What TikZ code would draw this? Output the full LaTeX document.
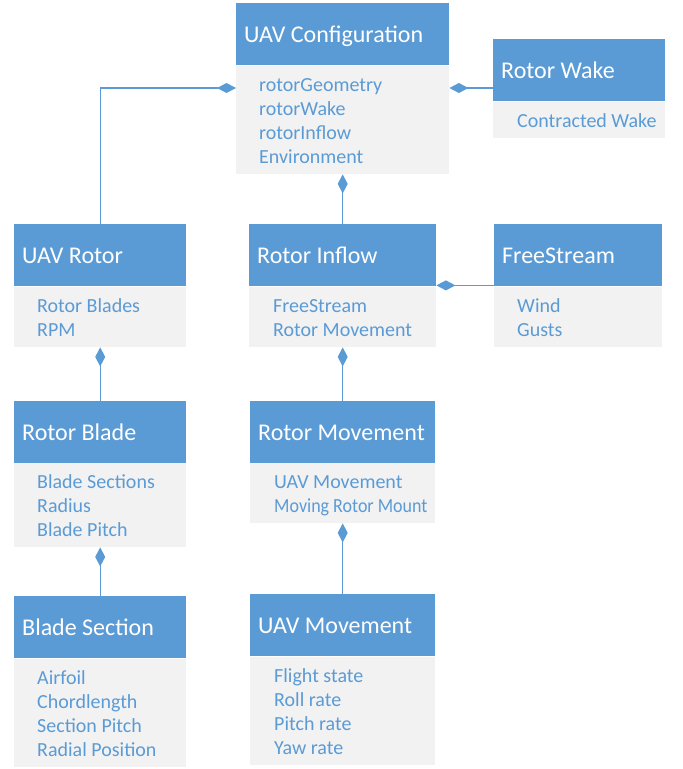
\documentclass[tikz,border=0pt]{standalone}
\usepackage{fontspec}
\setmainfont{Carlito}
\usetikzlibrary{arrows.meta}
\definecolor{ublue}{HTML}{5B9BD5}
\definecolor{ugray}{HTML}{F2F2F2}
\begin{document}
\begin{tikzpicture}[x=1pt,y=-1pt,
 hdr/.style={fill=ublue, draw=none, inner sep=0, anchor=north west, minimum height=62},
 bdy/.style={fill=ugray, draw=none, inner sep=0, anchor=north west},
 htxt/.style={anchor=base west, inner sep=0, text=white, font=\fontsize{24}{29}\selectfont},
 btxt/.style={anchor=base west, inner sep=0, text=ublue, font=\fontsize{20}{24.3}\selectfont},
 link/.style={draw=ublue, line width=1.3pt, {Diamond[length=19pt 0 0,width=10pt 0 0,fill=ublue]}-}
]
\useasboundingbox (0,0) rectangle (683,769);

% UAV Configuration
\node[hdr, minimum width=213] (cfg) at (236,3) {};
\node[htxt] (cfgT) at ([shift={(8,39)}]cfg.north west) {UAV Configuration};
\node[bdy, minimum width=213, minimum height=108] (cfgB) at (236,66) {};
\node[btxt] (cfgL) at ([shift={(23,25)}]cfgB.north west) {\begin{tabular}[t]{@{}l@{}}rotorGeometry\\rotorWake\\rotorInflow\\Environment\end{tabular}};

% Rotor Wake
\node[hdr, minimum width=172] (wake) at (493,39) {};
\node[htxt] (wakeT) at ([shift={(8,39)}]wake.north west) {Rotor Wake};
\node[bdy, minimum width=172, minimum height=36] (wakeB) at (493,102) {};
\node[btxt] (wakeL) at ([shift={(24,25)}]wakeB.north west) {Contracted Wake};

% UAV Rotor
\node[hdr, minimum width=172] (rotor) at (14,224) {};
\node[htxt] (rotorT) at ([shift={(8,39)}]rotor.north west) {UAV Rotor};
\node[bdy, minimum width=172, minimum height=60] (rotorB) at (14,287) {};
\node[btxt] (rotorL) at ([shift={(23,25)}]rotorB.north west) {\begin{tabular}[t]{@{}l@{}}Rotor Blades\\RPM\end{tabular}};

% Rotor Inflow
\node[hdr, minimum width=187] (inflow) at (249,224) {};
\node[htxt] (inflowT) at ([shift={(8,39)}]inflow.north west) {Rotor Inflow};
\node[bdy, minimum width=187, minimum height=60] (inflowB) at (249,287) {};
\node[btxt] (inflowL) at ([shift={(24,25)}]inflowB.north west) {\begin{tabular}[t]{@{}l@{}}FreeStream\\Rotor Movement\end{tabular}};

% FreeStream
\node[hdr, minimum width=168] (free) at (494,224) {};
\node[htxt] (freeT) at ([shift={(8,39)}]free.north west) {FreeStream};
\node[bdy, minimum width=168, minimum height=60] (freeB) at (494,287) {};
\node[btxt] (freeL) at ([shift={(23,25)}]freeB.north west) {\begin{tabular}[t]{@{}l@{}}Wind\\Gusts\end{tabular}};

% Rotor Blade
\node[hdr, minimum width=172] (blade) at (14,401) {};
\node[htxt] (bladeT) at ([shift={(8,39)}]blade.north west) {Rotor Blade};
\node[bdy, minimum width=172, minimum height=84] (bladeB) at (14,463) {};
\node[btxt] (bladeL) at ([shift={(23,25)}]bladeB.north west) {\begin{tabular}[t]{@{}l@{}}Blade Sections\\Radius\\Blade Pitch\end{tabular}};

% Rotor Movement
\node[hdr, minimum width=185] (move) at (250,401) {};
\node[htxt] (moveT) at ([shift={(8,39)}]move.north west) {Rotor Movement};
\node[bdy, minimum width=185, minimum height=60] (moveB) at (250,463) {};
\node[btxt] (moveL) at ([shift={(24,25)}]moveB.north west) {\begin{tabular}[t]{@{}l@{}}UAV Movement\\\scalebox{0.9}[1]{Moving Rotor Mount}\end{tabular}};

% Blade Section
\node[hdr, minimum width=172] (sect) at (14,596) {};
\node[htxt] (sectT) at ([shift={(8,39)}]sect.north west) {Blade Section};
\node[bdy, minimum width=172, minimum height=108] (sectB) at (14,659) {};
\node[btxt] (sectL) at ([shift={(23,25)}]sectB.north west) {\begin{tabular}[t]{@{}l@{}}Airfoil\\Chordlength\\Section Pitch\\Radial Position\end{tabular}};

% UAV Movement
\node[hdr, minimum width=185] (uavm) at (250,594) {};
\node[htxt] (uavmT) at ([shift={(8,39)}]uavm.north west) {UAV Movement};
\node[bdy, minimum width=185, minimum height=108] (uavmB) at (250,657) {};
\node[btxt] (uavmL) at ([shift={(24,25)}]uavmB.north west) {\begin{tabular}[t]{@{}l@{}}Flight state\\Roll rate\\Pitch rate\\Yaw rate\end{tabular}};

% connectors
\draw[link] ([yshift=-22pt]cfgB.north west) -| (rotor.north);
\draw[link] ([yshift=-22pt]cfgB.north east) coordinate (p1) -- (p1 -| wake.west);
\draw[link] (cfgB.south) -- (inflow.north);
\draw[link] ([yshift=1pt]inflow.south east) coordinate (p2) -- (p2 -| free.west);
\draw[link] (rotorB.south) -- (blade.north);
\draw[link] (inflowB.south) -- (move.north);
\draw[link] (bladeB.south) -- (sect.north);
\draw[link] (moveB.south) -- (uavm.north);
\end{tikzpicture}
\end{document}
